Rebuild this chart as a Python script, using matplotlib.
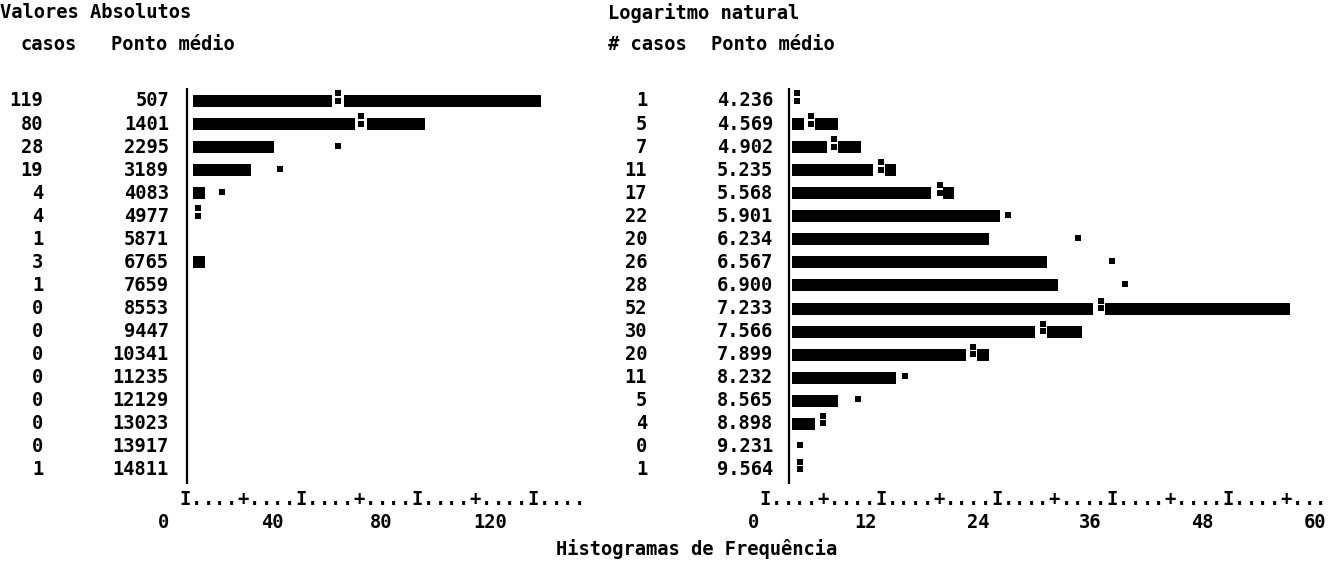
import numpy as np
import matplotlib.pyplot as plt
from matplotlib.transforms import blended_transform_factory

plt.rcParams['font.family'] = 'DejaVu Sans Mono'
plt.rcParams['font.weight'] = 'bold'

# valores absolutos
abs_casos = [119, 80, 28, 19, 4, 4, 1, 3, 1, 0, 0, 0, 0, 0, 0, 0, 1]
abs_ponto = ['507', '1401', '2295', '3189', '4083', '4977', '5871', '6765', '7659',
             '8553', '9447', '10341', '11235', '12129', '13023', '13917', '14811']
abs_normal = [50.1, 57.9, 50.1, 30.0, 9.9, 1.8] + [np.nan] * 11
abs_ticks = [0, 40, 80, 120]

# logaritmo natural
log_casos = [1, 5, 7, 11, 17, 22, 20, 26, 28, 52, 30, 20, 11, 5, 4, 0, 1]
log_ponto = ['4.236', '4.569', '4.902', '5.235', '5.568', '5.901', '6.234', '6.567', '6.900',
             '7.233', '7.566', '7.899', '8.232', '8.565', '8.898', '9.231', '9.564']
log_normal = [0.5, 2.0, 4.4, 9.2, 15.3, 22.4, 29.6, 33.2, 34.5, 32.0, 26.0, 18.8, 11.7,
              6.8, 3.2, 0.8, 0.8]
log_ticks = [0, 12, 24, 36, 48, 60]

W, H = 1334, 561
FS = 13.5
fig = plt.figure(figsize=(W / 100, H / 100), dpi=100)

ROW0, ROWH = 101, 23.06   # pixel y of first row, row spacing


def panel(px_left, px_right, origin, pxunit, upc, casos, ponto, normal, ticks,
          x_cnt, x_pt, spine, nchars, lab_a, lab_b):
    ax = fig.add_axes([px_left / W, 0, (px_right - px_left) / W, 1])
    ax.set_xlim((px_left - origin) / pxunit, (px_right - origin) / pxunit)
    ax.set_ylim((H - ROW0) / ROWH, -ROW0 / ROWH)
    ax.axis('off')

    rows = np.arange(len(casos))
    n = np.round(np.array(casos) / upc)
    ax.barh(rows, n * upc, height=0.52, color='black')

    # curva normal: ':' dentro da barra, '.' fora
    for r, v in zip(rows, normal):
        if np.isnan(v):
            continue
        cell = np.floor(v / upc)
        if cell < n[r]:
            ax.barh(r, upc, left=cell * upc, height=0.62, color='white')
            ax.scatter([v, v], [r - 0.34, r - 0.02], marker='s', s=14, color='black', lw=0)
        else:
            ax.scatter([v], [r - 0.07], marker='s', s=14, color='black', lw=0)

    ax.vlines(spine, -0.56, 16.6, color='black', lw=1.6)

    # escala em texto
    t0 = -2.8
    for i in range(nchars):
        ch = 'I' if i % 10 == 0 else ('+' if i % 5 == 0 else '.')
        ax.text(t0 + i * upc, 17.3, ch, ha='center', va='center', fontsize=FS, clip_on=False)
    for t in ticks:
        ax.text(t * lab_a + lab_b, 18.26, str(t), ha='center', va='center', fontsize=FS)

    tr = blended_transform_factory(fig.transFigure, ax.transData)
    for r, c, p in zip(rows, casos, ponto):
        ax.text(x_cnt / W, r, str(c), transform=tr, ha='right', va='center', fontsize=FS)
        ax.text(x_pt / W, r, p, transform=tr, ha='right', va='center', fontsize=FS)
    return ax


panel(0, 600, 193, 2.9, 4, abs_casos, abs_ponto, abs_normal, abs_ticks,
      43, 169, -2.07, 35, 0.94, -10.3)
panel(600, W, 792, 9.65, 1.2, log_casos, log_ponto, log_normal, log_ticks,
      647, 773, -0.31, 49, 0.971, -4.04)

fig.text(0 / W, 1 - 13 / H, 'Valores Absolutos', fontsize=FS, va='center')
fig.text(20 / W, 1 - 44 / H, 'casos', fontsize=FS, va='center')
fig.text(111 / W, 1 - 44 / H, 'Ponto médio', fontsize=FS, va='center')
fig.text(608 / W, 1 - 13 / H, 'Logaritmo natural', fontsize=FS, va='center')
fig.text(608 / W, 1 - 44 / H, '# casos', fontsize=FS, va='center')
fig.text(711 / W, 1 - 44 / H, 'Ponto médio', fontsize=FS, va='center')
fig.text(697 / W, 1 - 549 / H, 'Histogramas de Frequência', fontsize=FS,
         ha='center', va='center')

fig.savefig('out.png', dpi=100)
